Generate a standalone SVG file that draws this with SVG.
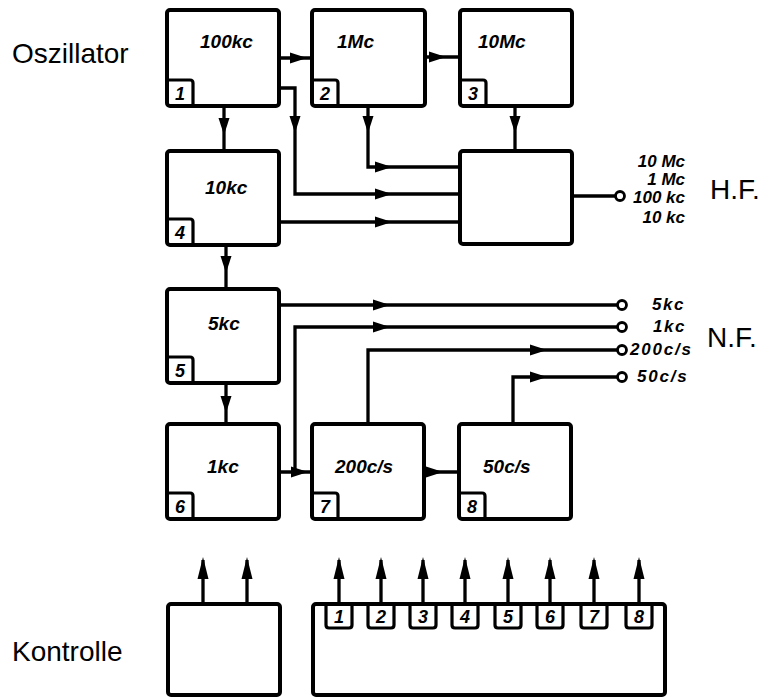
<svg xmlns="http://www.w3.org/2000/svg" xmlns:xlink="http://www.w3.org/1999/xlink" width="762" height="698" viewBox="0 0 762 698">
<style>
  .box { fill: #fff; stroke: #000; stroke-width: 4; }
  .lbl { fill: none; stroke: #000; stroke-width: 3.2; }
  .wire { fill: none; stroke: #000; stroke-width: 3.3; stroke-linejoin: miter; }
  .term { fill: #fff; stroke: #000; stroke-width: 2.8; }
  .bt { font-family: "Liberation Sans", Arial, sans-serif; font-weight: bold; font-style: italic; font-size: 19px; fill: #000; }
  .num { font-family: "Liberation Sans", Arial, sans-serif; font-weight: bold; font-style: italic; font-size: 18px; fill: #000; text-anchor: middle; }
  .out { font-family: "Liberation Sans", Arial, sans-serif; font-weight: bold; font-style: italic; font-size: 17px; fill: #000; }
  .big { font-family: "Liberation Sans", Arial, sans-serif; font-size: 28px; fill: #000; }
</style>
<defs>
  <path id="ah" d="M0,0 L-17,-5.5 L-17,5.5 Z" fill="#000"/>
  <path id="ahl" d="M0,0 L-22,-5.5 L-22,5.5 Z" fill="#000"/>
</defs>
<rect width="762" height="698" fill="#fff"/>

<text class="big" x="12" y="63">Oszillator</text>
<text class="big" x="12" y="661">Kontrolle</text>
<text class="big" x="710" y="199">H.F.</text>
<text class="big" x="707" y="347">N.F.</text>

<g id="connectors">
  <path class="wire" d="M279,58 H312"/>
  <path class="wire" d="M425,57 H460"/>
  <path class="wire" d="M224,106 V151"/>
  <path class="wire" d="M279,88 H295 V194 H460"/>
  <path class="wire" d="M368,106 V167 H460"/>
  <path class="wire" d="M515,106 V151"/>
  <path class="wire" d="M279,222 H460"/>
  <path class="wire" d="M572,196 H615.5"/>
  <path class="wire" d="M226,245 V289"/>
  <path class="wire" d="M279,305 H617.5"/>
  <path class="wire" d="M226,383 V424"/>
  <path class="wire" d="M279,472 H312"/>
  <path class="wire" d="M295,472 V327 H617.5"/>
  <path class="wire" d="M368,424 V350 H617.5"/>
  <path class="wire" d="M513,424 V377 H617.5"/>
  <path class="wire" d="M424,472 H459"/>
  <path class="wire" d="M203,604 V560 M247,604 V560"/>
  <path class="wire" d="M339,604 V560 M381,604 V560 M423,604 V560 M465,604 V560 M508,604 V560 M550,604 V560 M594,604 V560 M639,604 V560"/>
  <use xlink:href="#ah" transform="translate(307,58)"/>
  <use xlink:href="#ah" transform="translate(446,57)"/>
  <use xlink:href="#ah" transform="translate(224,135) rotate(90)"/>
  <use xlink:href="#ah" transform="translate(295,133) rotate(90)"/>
  <use xlink:href="#ah" transform="translate(368,133) rotate(90)"/>
  <use xlink:href="#ah" transform="translate(515,133) rotate(90)"/>
  <use xlink:href="#ah" transform="translate(392,167)"/>
  <use xlink:href="#ah" transform="translate(392,194)"/>
  <use xlink:href="#ah" transform="translate(392,222)"/>
  <use xlink:href="#ah" transform="translate(226,273) rotate(90)"/>
  <use xlink:href="#ah" transform="translate(390,305)"/>
  <use xlink:href="#ah" transform="translate(390,327)"/>
  <use xlink:href="#ah" transform="translate(226,413) rotate(90)"/>
  <use xlink:href="#ah" transform="translate(308,472)"/>
  <use xlink:href="#ah" transform="translate(443,472)"/>
  <use xlink:href="#ah" transform="translate(547,350)"/>
  <use xlink:href="#ah" transform="translate(547,377)"/>
  <use xlink:href="#ahl" transform="translate(203,557) rotate(-90)"/>
  <use xlink:href="#ahl" transform="translate(247,557) rotate(-90)"/>
  <use xlink:href="#ahl" transform="translate(339,557) rotate(-90)"/>
  <use xlink:href="#ahl" transform="translate(381,557) rotate(-90)"/>
  <use xlink:href="#ahl" transform="translate(423,557) rotate(-90)"/>
  <use xlink:href="#ahl" transform="translate(465,557) rotate(-90)"/>
  <use xlink:href="#ahl" transform="translate(508,557) rotate(-90)"/>
  <use xlink:href="#ahl" transform="translate(550,557) rotate(-90)"/>
  <use xlink:href="#ahl" transform="translate(594,557) rotate(-90)"/>
  <use xlink:href="#ahl" transform="translate(639,557) rotate(-90)"/>
  <circle class="term" cx="620" cy="196" r="4.5"/>
  <circle class="term" cx="622" cy="305" r="4.5"/>
  <circle class="term" cx="622" cy="327" r="4.5"/>
  <circle class="term" cx="622" cy="350" r="4.5"/>
  <circle class="term" cx="622" cy="377" r="4.5"/>
</g>

<g id="hf-labels">
  <text class="out" x="685" y="167" text-anchor="end">10 Mc</text>
  <text class="out" x="685" y="185" text-anchor="end">1 Mc</text>
  <text class="out" x="685" y="203" text-anchor="end">100 kc</text>
  <text class="out" x="685" y="223" text-anchor="end">10 kc</text>
</g>
<g id="nf-labels">
  <text class="out" x="652" y="310" letter-spacing="1.5">5kc</text>
  <text class="out" x="653" y="332" letter-spacing="1.5">1kc</text>
  <text class="out" x="630" y="355" letter-spacing="1.8">200c/s</text>
  <text class="out" x="637" y="382" letter-spacing="1.8">50c/s</text>
</g>

<g id="node1">
  <rect class="box" x="167" y="10" width="112" height="96" rx="3"/>
  <path class="lbl" d="M167,80 H190 Q193,80 193,83 V106"/>
  <text class="num" x="180" y="100">1</text>
  <text class="bt" x="200" y="48">100kc</text>
</g>
<g id="node2">
  <rect class="box" x="312" y="10" width="113" height="96" rx="3"/>
  <path class="lbl" d="M312,80 H335 Q338,80 338,83 V106"/>
  <text class="num" x="325" y="100">2</text>
  <text class="bt" x="337" y="48">1Mc</text>
</g>
<g id="node3">
  <rect class="box" x="460" y="10" width="112" height="96" rx="3"/>
  <path class="lbl" d="M460,80 H483 Q486,80 486,83 V106"/>
  <text class="num" x="473" y="100">3</text>
  <text class="bt" x="478" y="48">10Mc</text>
</g>
<g id="node4">
  <rect class="box" x="167" y="151" width="112" height="94" rx="3"/>
  <path class="lbl" d="M167,219 H190 Q193,219 193,222 V245"/>
  <text class="num" x="180" y="239">4</text>
  <text class="bt" x="205" y="194">10kc</text>
</g>
<g id="hf-mixer">
  <rect class="box" x="460" y="151" width="112" height="93" rx="3"/>
</g>
<g id="node5">
  <rect class="box" x="167" y="289" width="112" height="94" rx="3"/>
  <path class="lbl" d="M167,357 H190 Q193,357 193,360 V383"/>
  <text class="num" x="180" y="377">5</text>
  <text class="bt" x="208" y="330">5kc</text>
</g>
<g id="node6">
  <rect class="box" x="167" y="424" width="112" height="95" rx="3"/>
  <path class="lbl" d="M167,493 H190 Q193,493 193,496 V519"/>
  <text class="num" x="180" y="513">6</text>
  <text class="bt" x="207" y="473">1kc</text>
</g>
<g id="node7">
  <rect class="box" x="312" y="424" width="112" height="95" rx="3"/>
  <path class="lbl" d="M312,493 H335 Q338,493 338,496 V519"/>
  <text class="num" x="325" y="513">7</text>
  <text class="bt" x="335" y="473">200c/s</text>
</g>
<g id="node8">
  <rect class="box" x="459" y="424" width="112" height="95" rx="3"/>
  <path class="lbl" d="M459,493 H482 Q485,493 485,496 V519"/>
  <text class="num" x="472" y="513">8</text>
  <text class="bt" x="483" y="473">50c/s</text>
</g>
<g id="kontrolle-left">
  <rect class="box" x="168" y="604" width="112" height="91" rx="3"/>
</g>
<g id="kontrolle-right">
  <rect class="box" x="313" y="604" width="352" height="91" rx="3"/>
  <path class="lbl" d="M326,604 V625 Q326,628 329,628 H349 Q352,628 352,625 V604"/>
  <path class="lbl" d="M368,604 V625 Q368,628 371,628 H391 Q394,628 394,625 V604"/>
  <path class="lbl" d="M410,604 V625 Q410,628 413,628 H433 Q436,628 436,625 V604"/>
  <path class="lbl" d="M452,604 V625 Q452,628 455,628 H475 Q478,628 478,625 V604"/>
  <path class="lbl" d="M495,604 V625 Q495,628 498,628 H518 Q521,628 521,625 V604"/>
  <path class="lbl" d="M537,604 V625 Q537,628 540,628 H560 Q563,628 563,625 V604"/>
  <path class="lbl" d="M581,604 V625 Q581,628 584,628 H604 Q607,628 607,625 V604"/>
  <path class="lbl" d="M626,604 V625 Q626,628 629,628 H649 Q652,628 652,625 V604"/>
  <text class="num" x="339" y="623">1</text>
  <text class="num" x="381" y="623">2</text>
  <text class="num" x="423" y="623">3</text>
  <text class="num" x="465" y="623">4</text>
  <text class="num" x="508" y="623">5</text>
  <text class="num" x="550" y="623">6</text>
  <text class="num" x="594" y="623">7</text>
  <text class="num" x="639" y="623">8</text>
</g>
</svg>
